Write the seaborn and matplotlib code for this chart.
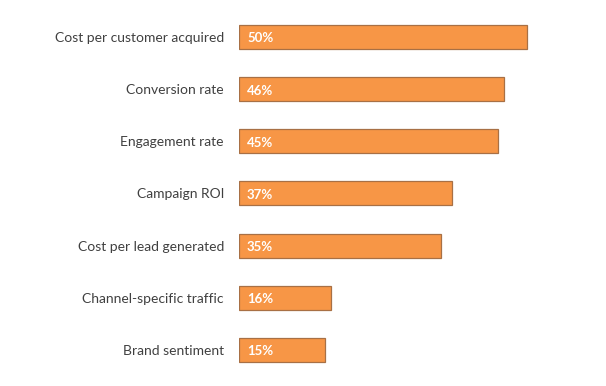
import matplotlib
matplotlib.use("Agg")
import pandas as pd
import matplotlib.pyplot as plt
import seaborn as sns

# chart data
metrics = ["Cost per customer acquired", "Conversion rate", "Engagement rate",
           "Campaign ROI", "Cost per lead generated", "Channel-specific traffic",
           "Brand sentiment"]
shares = [50, 46, 45, 37, 35, 16, 15]

df = pd.DataFrame({"metric": metrics, "share": shares})

sns.set_style("white")
plt.rcParams["font.family"] = ["Lato", "DejaVu Sans"]

fig = plt.figure(figsize=(6.06, 3.86), dpi=100)
ax = fig.add_axes([239 / 606, 0.0259, 345.6 / 606, 0.9459])

sns.barplot(data=df, x="share", y="metric", order=metrics, color="#F79646",
            saturation=1, width=0.46, edgecolor="#A87045", linewidth=0.9, ax=ax)

# white percentage labels inside the bars
for i, v in enumerate(shares):
    ax.annotate(f"{v}%", xy=(0, i), xytext=(5.8, -1), textcoords="offset points",
                ha="left", va="center", color="white", fontsize=9.5,
                fontweight="bold")

ax.set_xlim(0, 60)
ax.set_ylim(6.5, -0.5)
ax.set_xlabel("")
ax.set_ylabel("")
ax.set_xticks([])
ax.tick_params(axis="y", length=0, pad=10.8, labelsize=10, labelcolor="#404040")
for s in ax.spines.values():
    s.set_visible(False)

fig.savefig("out.png", dpi=100)
